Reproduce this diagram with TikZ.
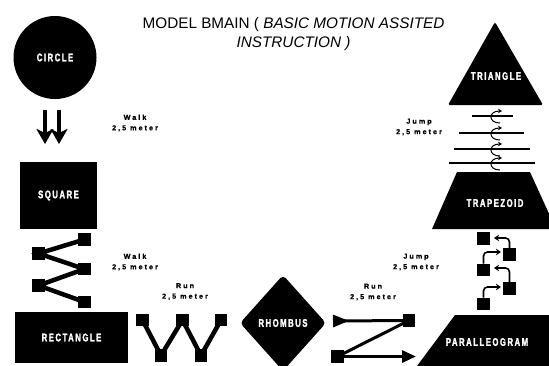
\documentclass[tikz,border=0pt]{standalone}
\usepackage{fontspec}
\setmainfont{Liberation Sans}
\newfontfamily\shapefont{Liberation Sans Bold}[FakeStretch=0.7, LetterSpace=14, FakeBold=2]
\newfontfamily\notefont{Liberation Sans Bold}[LetterSpace=28, FakeBold=0.6]
\usetikzlibrary{shapes.geometric, arrows.meta}
\begin{document}
\begin{tikzpicture}[x=1pt,y=-1pt,
  shapelabel/.style={text=white, font=\shapefont\fontsize{11}{13}\selectfont, inner sep=0pt},
  note/.style={align=center, font=\notefont\fontsize{7.2}{10.5}\selectfont, inner sep=0pt},
  blk/.style={fill=black, draw=none},
  pad/.style={fill=black, draw=none, rectangle, minimum size=12.5pt, inner sep=0pt},
  zigline/.style={line width=4.5pt},
  zline/.style={line width=3pt},
  jumpline/.style={line width=2pt},
  hop/.style={line width=1pt, -{Stealth[length=4pt,width=4.5pt]}},
  padarrow/.style={line width=1.6pt, rounded corners=4pt, -{Stealth[length=5pt,width=6.5pt]}},
  downarrow/.style={line width=3.6pt, -{Stealth[length=15pt,width=17pt,inset=4pt]}}
]
\useasboundingbox (0,0) rectangle (549,365);
\fill[white] (0,0) rectangle (549,365);
\clip (0,0) rectangle (549,365);

% title
\node[font=\fontsize{15.3}{18.5}\selectfont, align=center, inner sep=0pt] (title) at (293.5,34)
  {MODEL BMAIN ( \textit{BASIC MOTION ASSITED}\\ \textit{INSTRUCTION )}};

% shapes
\node[circle, blk, minimum size=83pt, shapelabel] (circ) at (55,57.5) {CIRCLE};
\node[rectangle, blk, minimum width=77pt, minimum height=67pt, shapelabel] (sq) at (58.5,195.5) {SQUARE};
\node[rectangle, blk, minimum width=113pt, minimum height=51pt, shapelabel] (rect) at (71.5,337.5) {RECTANGLE};
\node[diamond, blk, minimum width=86pt, minimum height=96pt, rounded corners=4pt, shapelabel] (rho) at (283,323) {RHOMBUS};

\fill[black, rounded corners=1.5pt] (495,22) -- (543,105) -- (448,105) -- cycle;
\node[shapelabel] (tri) at (496,76) {TRIANGLE};
\fill[black] (457,172) -- (530,172) -- (556,229) -- (432,229) -- cycle;
\node[shapelabel] (trap) at (495,203) {TRAPEZOID};
\fill[black] (455,315) -- (560,315) -- (560,366) -- (417,366) -- cycle;
\node[shapelabel] (para) at (487,342) {PARALLEOGRAM};

% notes
\node[note] (walk1) at (135,123) {Walk\\2,5 meter};
\node[note] (walk2) at (135,262) {Walk\\2,5 meter};
\node[note] (run1) at (185,291.5) {Run\\2,5 meter};
\node[note] (run2) at (373,292) {Run\\2,5 meter};
\node[note] (jump1) at (419,127) {Jump\\2,5 meter};
\node[note] (jump2) at (416,262) {Jump\\2,5 meter};

% walk: double arrow
\coordinate (a1s) at (45,110);
\coordinate (a1e) at (45,144);
\coordinate (a2s) at (59,110);
\coordinate (a2e) at (59,144);
\draw[downarrow] (a1s) -- (a1e);
\draw[downarrow] (a2s) -- (a2e);

% walk: zigzag
\node[pad] (w1) at (84.5,239.5) {};
\node[pad] (w2) at (38.5,253.5) {};
\node[pad] (w3) at (84.5,269) {};
\node[pad] (w4) at (38.5,285.5) {};
\node[pad] (w5) at (84.5,302) {};
\draw[zigline] (w1.center) -- (w2.center) -- (w3.center) -- (w4.center) -- (w5.center);

% run: W
\node[pad] (r1) at (142.5,320) {};
\node[pad] (r2) at (161,355.5) {};
\node[pad] (r3) at (182.5,320) {};
\node[pad] (r4) at (201,355.5) {};
\node[pad] (r5) at (221,320) {};
\draw[zigline] (r1.center) -- (r2.center) -- (r3.center) -- (r4.center) -- (r5.center);

% run: Z
\coordinate (ztail) at (333,321);
\node[pad] (z1) at (409,320.5) {};
\node[pad] (z2) at (337.5,356.5) {};
\coordinate (zhead) at (416,356.5);
\draw[zline, {Triangle[reversed,length=16pt,width=12pt]}-] (ztail) -- (z1.center);
\draw[zline] (z1.center) -- (z2.center);
\draw[zline, -{Triangle[length=14pt,width=12pt]}] (z2.center) -- (zhead);

% jump: lines with hops
\coordinate (j1l) at (472,116); \coordinate (j1r) at (513,116);
\coordinate (j2l) at (459,133); \coordinate (j2r) at (524,133);
\coordinate (j3l) at (454,149); \coordinate (j3r) at (530,149);
\coordinate (j4l) at (449,163); \coordinate (j4r) at (535,163);
\draw[jumpline] (j1l) -- (j1r);
\draw[jumpline] (j2l) -- (j2r);
\draw[jumpline] (j3l) -- (j3r);
\draw[jumpline] (j4l) -- (j4r);
\foreach \L in {116,133,149,163} {
  \draw[hop] (500,\L+7) .. controls (488,\L+7) and (488,\L-5) .. (502,\L-5);
}

% jump: stepping pads
\node[pad] (s1) at (483.5,238.5) {};
\node[pad] (s2) at (509.5,254.5) {};
\node[pad] (s3) at (483.5,270) {};
\node[pad] (s4) at (509.5,288.5) {};
\node[pad] (s5) at (483.5,304) {};
\coordinate (t1) at (494,238);
\coordinate (t2) at (501,252);
\coordinate (t3) at (494,268);
\coordinate (t4) at (501,287);
\draw[padarrow] (s2.north) |- (t1);
\draw[padarrow] (s3.north) |- (t2);
\draw[padarrow] (s4.north) |- (t3);
\draw[padarrow] (s5.north) |- (t4);
\end{tikzpicture}
\end{document}
